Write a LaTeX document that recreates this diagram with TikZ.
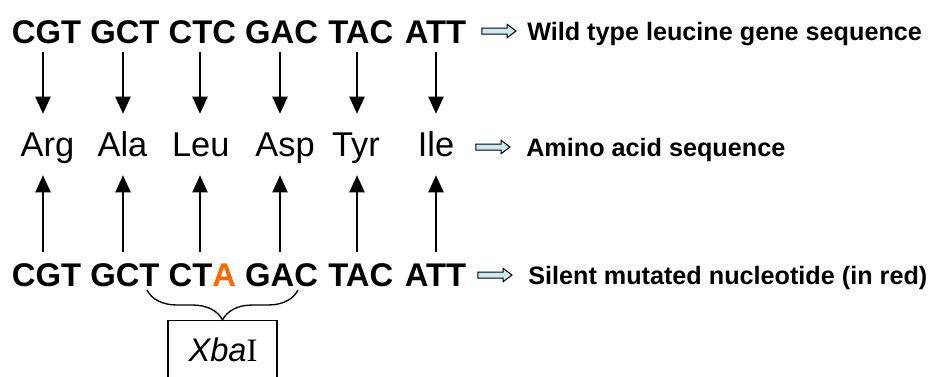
\documentclass[tikz,border=0pt]{standalone}
\usepackage{fontspec}
\setmainfont{Liberation Sans}
\newfontfamily\serifI{Liberation Serif}
\usetikzlibrary{arrows.meta,shapes.arrows,decorations.pathreplacing}
\definecolor{mutred}{RGB}{255,102,0}
\definecolor{arrowfill}{RGB}{204,236,240}
\begin{document}
\begin{tikzpicture}[x=0.75pt,y=-0.75pt,
  codontop/.style={anchor=base,inner sep=0pt,text depth=6.75pt,font=\fontsize{24.6pt}{28pt}\selectfont\bfseries},
  codonbot/.style={anchor=base,inner sep=0pt,text height=25.5pt,font=\fontsize{24.6pt}{28pt}\selectfont\bfseries},
  amino/.style={anchor=base,inner sep=0pt,text height=31.5pt,text depth=14.25pt,font=\fontsize{25.8pt}{28pt}\selectfont},
  lbl/.style={anchor=base west,inner sep=0pt,font=\fontsize{18.9pt}{22pt}\selectfont\bfseries},
  hollow/.style={single arrow,draw=black,line width=0.75pt,fill=arrowfill,inner sep=1.875pt,
    minimum height=25.5pt,single arrow head extend=2.8pt,single arrow tip angle=74,anchor=center},
  arr/.style={line width=1.5pt,-{Triangle[width=11.25pt,length=12.75pt]}}
]
\useasboundingbox (0,0) rectangle (932,376);
\clip (0,0) rectangle (932,376);

% column positions for arrows
\coordinate (k1) at (43,0);
\coordinate (k2) at (123,0);
\coordinate (k3) at (200,0);
\coordinate (k4) at (280,0);
\coordinate (k5) at (357,0);
\coordinate (k6) at (436,0);

% top codons
\node[codontop] (c1) at (46.6,43) {CGT};
\node[codontop] (c2) at (124.9,43) {GCT};
\node[codontop] (c3) at (202.3,43) {CTC};
\node[codontop] (c4) at (281.5,43) {GAC};
\node[codontop] (c5) at (360.8,43) {TAC};
\node[codontop] (c6) at (435.5,43) {ATT};

% amino acids
\node[amino] (a1) at (47.5,156) {Arg};
\node[amino] (a2) at (122.5,156) {Ala};
\node[amino] (a3) at (200.7,156) {Leu};
\node[amino] (a4) at (285,156) {Asp};
\node[amino] (a5) at (356,156) {Tyr};
\node[amino] (a6) at (436,156) {Ile};

% bottom codons
\node[codonbot] (b1) at (46.6,286) {CGT};
\node[codonbot] (b2) at (124.9,286) {GCT};
\node[codonbot] (b3) at (202.3,286) {CT{\color{mutred}A}};
\node[codonbot] (b4) at (281.5,286) {GAC};
\node[codonbot] (b5) at (360.8,286) {TAC};
\node[codonbot] (b6) at (435.5,286) {ATT};

% arrows
\foreach \i in {1,...,6}{
  \draw[arr] (c\i.south -| k\i) -- (a\i.north -| k\i);
  \draw[arr] (b\i.north -| k\i) -- (a\i.south -| k\i);
}

% hollow arrows and labels
\node[hollow] (h1) at (497,31) {};
\node[hollow] (h2) at (491,147) {};
\node[hollow] (h3) at (493,275) {};
\node[lbl] (l1) at (527,40) {Wild type leucine gene sequence};
\node[lbl] (l2) at (526,156) {Amino acid sequence};
\node[lbl] (l3) at (528,284) {Silent mutated nucleotide (in red)};

% brace and XbaI box
\coordinate (bl) at (147,290);
\coordinate (br) at (298,290);
\draw[line width=1pt,decorate,decoration={brace,mirror,amplitude=22.5pt}] (bl) -- (br);
\node[draw,line width=1pt,inner sep=0pt,minimum width=81.75pt,minimum height=60pt,anchor=north] (xbabox) at (222.5,320) {};
\node[anchor=base,inner sep=0pt,font=\fontsize{24.5pt}{27pt}\selectfont] (xbatext) at (223,361) {\textit{Xba}{\serifI I}};
\end{tikzpicture}
\end{document}
